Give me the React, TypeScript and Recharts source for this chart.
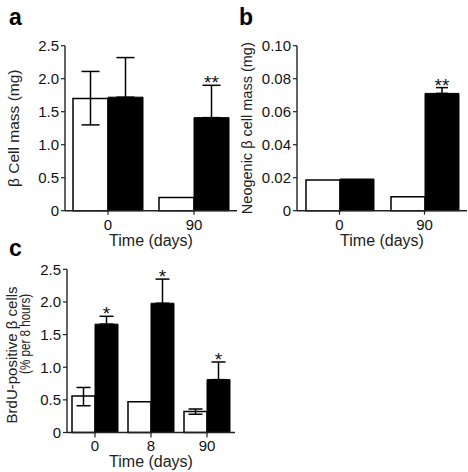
import { BarChart, Bar, XAxis, YAxis, ErrorBar, LabelList, Label } from "recharts";

// a: beta cell mass
const daysA = ["0", "90"];
const massCtrlA = [1.7, 0.2];
const massCtrlErrA = [[0.4, 0.41], null];
const massTreatA = [1.72, 1.41];
const massTreatErrA = [[0, 0.6], [0, 0.49]];
const sigA = ["", "**"];
const ticksA = [0, 0.5, 1, 1.5, 2, 2.5];

// b: neogenic beta cell mass
const daysB = ["0", "90"];
const neoCtrlB = [0.0186, 0.0085];
const neoCtrlErrB = [null, null];
const neoTreatB = [0.0192, 0.0711];
const neoTreatErrB = [null, [0, 0.0035]];
const sigB = ["", "**"];
const ticksB = [0, 0.02, 0.04, 0.06, 0.08, 0.1];

// c: BrdU-positive beta cells
const daysC = ["0", "8", "90"];
const brduCtrlC = [0.56, 0.47, 0.32];
const brduCtrlErrC = [[0.15, 0.13], null, [0.04, 0.04]];
const brduTreatC = [1.66, 1.98, 0.81];
const brduTreatErrC = [[0, 0.12], [0, 0.37], [0, 0.27]];
const sigC = ["*", "*", "*"];
const ticksC = [0, 0.5, 1, 1.5, 2, 2.5];

type Row = {
  day: string;
  ctrl: number;
  ctrlErr: number[] | null;
  treat: number;
  treatErr: number[] | null;
  sig: string;
};

const buildRows = (
  days: string[],
  ctrl: number[],
  ctrlErr: (number[] | null)[],
  treat: number[],
  treatErr: (number[] | null)[],
  sig: string[]
): Row[] =>
  days.map((day, i) => ({
    day,
    ctrl: ctrl[i],
    ctrlErr: ctrlErr[i],
    treat: treat[i],
    treatErr: treatErr[i],
    sig: sig[i],
  }));

const rowsA = buildRows(daysA, massCtrlA, massCtrlErrA, massTreatA, massTreatErrA, sigA);
const rowsB = buildRows(daysB, neoCtrlB, neoCtrlErrB, neoTreatB, neoTreatErrB, sigB);
const rowsC = buildRows(daysC, brduCtrlC, brduCtrlErrC, brduTreatC, brduTreatErrC, sigC);

const INK = "#111";
const FONT = "'Liberation Sans', Arial, Helvetica, sans-serif";

// star placed just above the top of the error bar of the black bar
const starContent = (rows: Row[]) => (props: any) => {
  const { index, value } = props;
  if (!value) return null;
  const vb = props.viewBox ?? props;
  const x = vb.x ?? props.x;
  const y = vb.y ?? props.y;
  const w = vb.width ?? props.width;
  const h = vb.height ?? props.height;
  const row = rows[index];
  const up = row.treatErr ? row.treatErr[1] : 0;
  const top = y - (up * h) / row.treat;
  return (
    <text x={x + w / 2} y={top + 4} textAnchor="middle" fontSize={19} fill={INK} fontFamily={FONT}>
      {value}
    </text>
  );
};

// two-line rotated title of panel c, placed from the axis box
const brduLabel = (props: any) => {
  const vb = props.viewBox;
  const cy = vb.y + vb.height / 2;
  return (
    <g fill="#222" fontFamily={FONT}>
      <text fontSize={15} transform={`translate(${vb.x + 16.5},${cy + 4}) rotate(-90)`} textAnchor="middle">
        BrdU-positive β cells
      </text>
      <text
        fontSize={14}
        transform={`translate(${vb.x + 30},${cy - 17}) rotate(-90)`}
        textAnchor="middle"
        textLength={80}
        lengthAdjust="spacingAndGlyphs"
      >
        (% per 8 hours)
      </text>
    </g>
  );
};

interface PanelProps {
  rows: Row[];
  width: number;
  height: number;
  top: number;
  right: number;
  yWidth: number;
  xHeight: number;
  xTickSize: number;
  xTickMargin: number;
  xLabelOffset: number;
  ticks: number[];
  digits: number;
  barSize: number;
  cap: number;
  yLabel: any;
}

function Panel(p: PanelProps) {
  const fmt = (v: number) => (v === 0 ? "0" : v.toFixed(p.digits));
  return (
    <BarChart
      width={p.width}
      height={p.height}
      data={p.rows}
      margin={{ top: p.top, right: p.right, bottom: 0, left: 0 }}
      barGap={0}
      barSize={p.barSize}
    >
      <XAxis
        dataKey="day"
        height={p.xHeight}
        tick={{ fill: INK, fontSize: 15 }}
        tickSize={p.xTickSize}
        tickMargin={p.xTickMargin}
        axisLine={{ stroke: "#222", strokeWidth: 1.4 }}
        tickLine={{ stroke: "#222", strokeWidth: 1.2 }}
      >
        <Label value="Time (days)" position="insideBottom" offset={p.xLabelOffset} fontSize={16} fill="#222" />
      </XAxis>
      <YAxis
        width={p.yWidth}
        domain={[p.ticks[0], p.ticks[p.ticks.length - 1]]}
        ticks={p.ticks}
        tickFormatter={fmt}
        tick={{ fill: INK, fontSize: 15 }}
        tickSize={4}
        tickMargin={2}
        interval={0}
        axisLine={{ stroke: "#222", strokeWidth: 1.4 }}
        tickLine={{ stroke: "#222", strokeWidth: 1.2 }}
      >
        {p.yLabel}
      </YAxis>
      <Bar dataKey="ctrl" fill="#fff" stroke="#000" strokeWidth={1.5} isAnimationActive={false}>
        <ErrorBar dataKey="ctrlErr" direction="y" width={p.cap} stroke="#000" strokeWidth={1.5} isAnimationActive={false} />
      </Bar>
      <Bar dataKey="treat" fill="#000" stroke="#000" strokeWidth={1} isAnimationActive={false}>
        <ErrorBar dataKey="treatErr" direction="y" width={p.cap} stroke="#000" strokeWidth={1.5} isAnimationActive={false} />
        <LabelList dataKey="sig" content={starContent(p.rows)} />
      </Bar>
    </BarChart>
  );
}

export default function App() {
  return (
    <div
      style={{
        position: "absolute",
        left: 0,
        top: 0,
        width: 468,
        height: 472,
        background: "#fff",
        fontFamily: FONT,
      }}
    >
      <div style={{ position: "absolute", left: 0, top: 0 }}>
        <Panel
          rows={rowsA}
          width={240}
          height={250}
          top={45.7}
          right={3}
          yWidth={65}
          xHeight={39.3}
          xTickSize={4}
          xTickMargin={5}
          xLabelOffset={4}
          ticks={ticksA}
          digits={1}
          barSize={35}
          cap={9}
          yLabel={
            <Label
              value="β Cell mass (mg)"
              angle={-90}
              position="insideLeft"
              offset={14}
              fontSize={15.5}
              fill="#222"
              style={{ textAnchor: "middle" }}
            />
          }
        />
      </div>
      <div style={{ position: "absolute", left: 230, top: 0 }}>
        <Panel
          rows={rowsB}
          width={238}
          height={250}
          top={45.7}
          right={1}
          yWidth={67}
          xHeight={39.3}
          xTickSize={4}
          xTickMargin={5}
          xLabelOffset={4}
          ticks={ticksB}
          digits={2}
          barSize={34}
          cap={6}
          yLabel={
            <Label
              value="Neogenic β cell mass (mg)"
              angle={-90}
              position="insideLeft"
              offset={17}
              fontSize={14.5}
              fill="#222"
              style={{ textAnchor: "middle" }}
            />
          }
        />
      </div>
      <div style={{ position: "absolute", left: 0, top: 250 }}>
        <Panel
          rows={rowsC}
          width={240}
          height={222}
          top={19.3}
          right={5}
          yWidth={67}
          xHeight={39.5}
          xTickSize={5}
          xTickMargin={3}
          xLabelOffset={5}
          ticks={ticksC}
          digits={1}
          barSize={23}
          cap={7}
          yLabel={<Label content={brduLabel} />}
        />
      </div>
      <svg
        width={468}
        height={472}
        style={{ position: "absolute", left: 0, top: 0, pointerEvents: "none" }}
        fontFamily={FONT}
        fontWeight="bold"
        fontSize={23}
        fill="#000"
      >
        <text x={9} y={25}>a</text>
        <text x={239} y={25}>b</text>
        <text x={9} y={256}>c</text>
      </svg>
    </div>
  );
}
